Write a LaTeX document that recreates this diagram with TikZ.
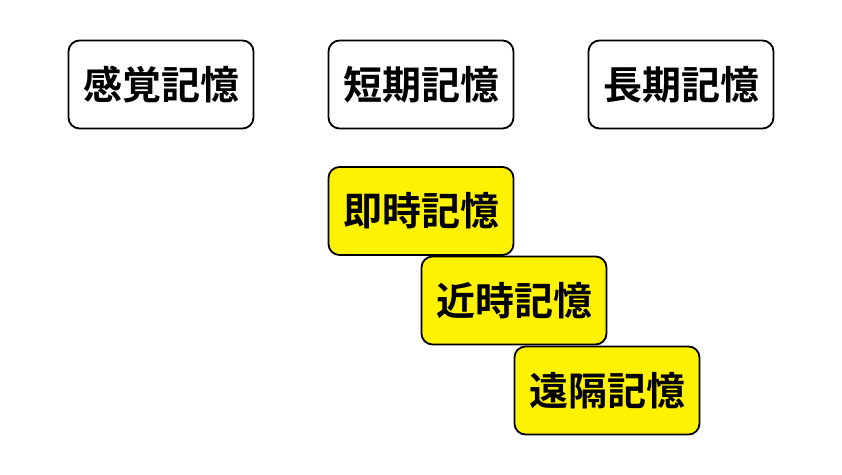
\documentclass[tikz,border=0pt]{standalone}
\usepackage{fontspec}
\newfontfamily\cjk{Noto Sans CJK JP Bold}
\begin{document}
\begin{tikzpicture}[x=1pt,y=-1pt,
  membox/.style={draw=black, line width=1.8pt, rounded corners=11pt, minimum width=185pt, minimum height=88pt, inner sep=0pt, font=\cjk\fontsize{39}{44}\selectfont, fill=white},
  yelbox/.style={membox, fill=yellow}]
\useasboundingbox (0,0) rectangle (842,474);
\node[membox] (sensory) at (161,84.5) {感覚記憶};
\node[membox] (short) at (421,84.5) {短期記憶};
\node[membox] (long) at (681,84.5) {長期記憶};
\node[yelbox] (imm) at (421,211) {即時記憶};
\node[yelbox] (recent) at (514,300.5) {近時記憶};
\node[yelbox] (remote) at (607,390.5) {遠隔記憶};
\end{tikzpicture}
\end{document}
